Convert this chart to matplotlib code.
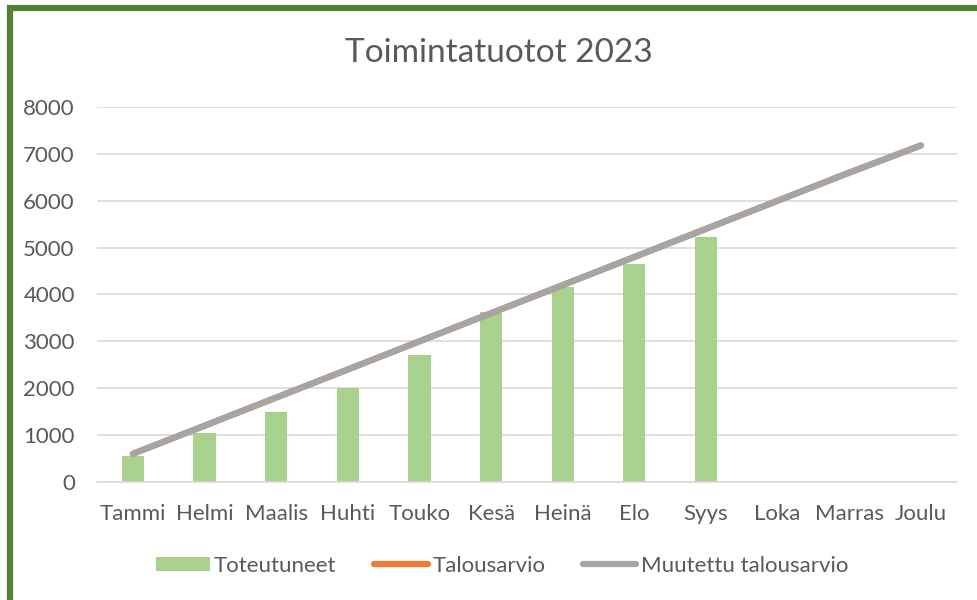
import matplotlib.pyplot as plt
from matplotlib.patches import Rectangle
import numpy as np

plt.rcParams['font.family'] = ['Lato', 'DejaVu Sans']

# kuukaudet ja arvot
months = ['Tammi', 'Helmi', 'Maalis', 'Huhti', 'Touko', 'Kesä',
          'Heinä', 'Elo', 'Syys', 'Loka', 'Marras', 'Joulu']
toteutuneet = [550, 1050, 1500, 2000, 2700, 3620, 4150, 4640, 5220]
talousarvio = [600, 1200, 1800, 2400, 3000, 3600, 4200, 4800, 5400, 6000, 6600, 7180]
muutettu = [600, 1200, 1800, 2400, 3000, 3600, 4200, 4800, 5400, 6000, 6600, 7180]

text_col = '#595959'
grid_col = '#d9d9d9'

fig = plt.figure(figsize=(9.77, 6), dpi=100)
ax = fig.add_axes([0.0993, 0.1967, 0.88, 0.625])

x = np.arange(len(months))
b = ax.bar(x[:len(toteutuneet)], toteutuneet, width=0.31, color='#a9d18e',
           zorder=2)
l1, = ax.plot(x, talousarvio, color='#ed7d31', lw=4.5, solid_capstyle='round',
              zorder=3)
l2, = ax.plot(x, muutettu, color='#a5a5a5', lw=4.5, solid_capstyle='round',
              zorder=4)

ax.set_xlim(-0.5, len(months) - 0.5)
ax.set_ylim(0, 8000)
ax.set_yticks(range(0, 8001, 1000))
ax.set_xticks(x)
ax.set_xticklabels(months)
ax.grid(axis='y', color=grid_col, lw=1.2, zorder=0)
for s in ['top', 'right', 'left']:
    ax.spines[s].set_visible(False)
ax.spines['bottom'].set_color(grid_col)
ax.spines['bottom'].set_linewidth(1.2)
ax.tick_params(length=0, colors=text_col, labelsize=16)
ax.tick_params(axis='x', pad=16)
ax.tick_params(axis='y', pad=16)

fig.text(0.511, 0.912, 'Toimintatuotot 2023', ha='center', va='center',
         fontsize=24, color=text_col)

leg = fig.legend([b, l1, l2], ['Toteutuneet', 'Talousarvio', 'Muutettu talousarvio'],
                 loc='center', bbox_to_anchor=(0.514, 0.057), ncol=3,
                 frameon=False, fontsize=16, handlelength=2.4, handleheight=0.65,
                 handletextpad=0.2, columnspacing=1.7)
for t in leg.get_texts():
    t.set_color(text_col)

# vihreä kehys
fig.patches.append(Rectangle((10 / 977, -0.05), 1.1, 1 - 8 / 600 + 0.05,
                             transform=fig.transFigure, fill=False,
                             edgecolor='#548235', lw=4.5))

fig.savefig('out.png', dpi=100)
